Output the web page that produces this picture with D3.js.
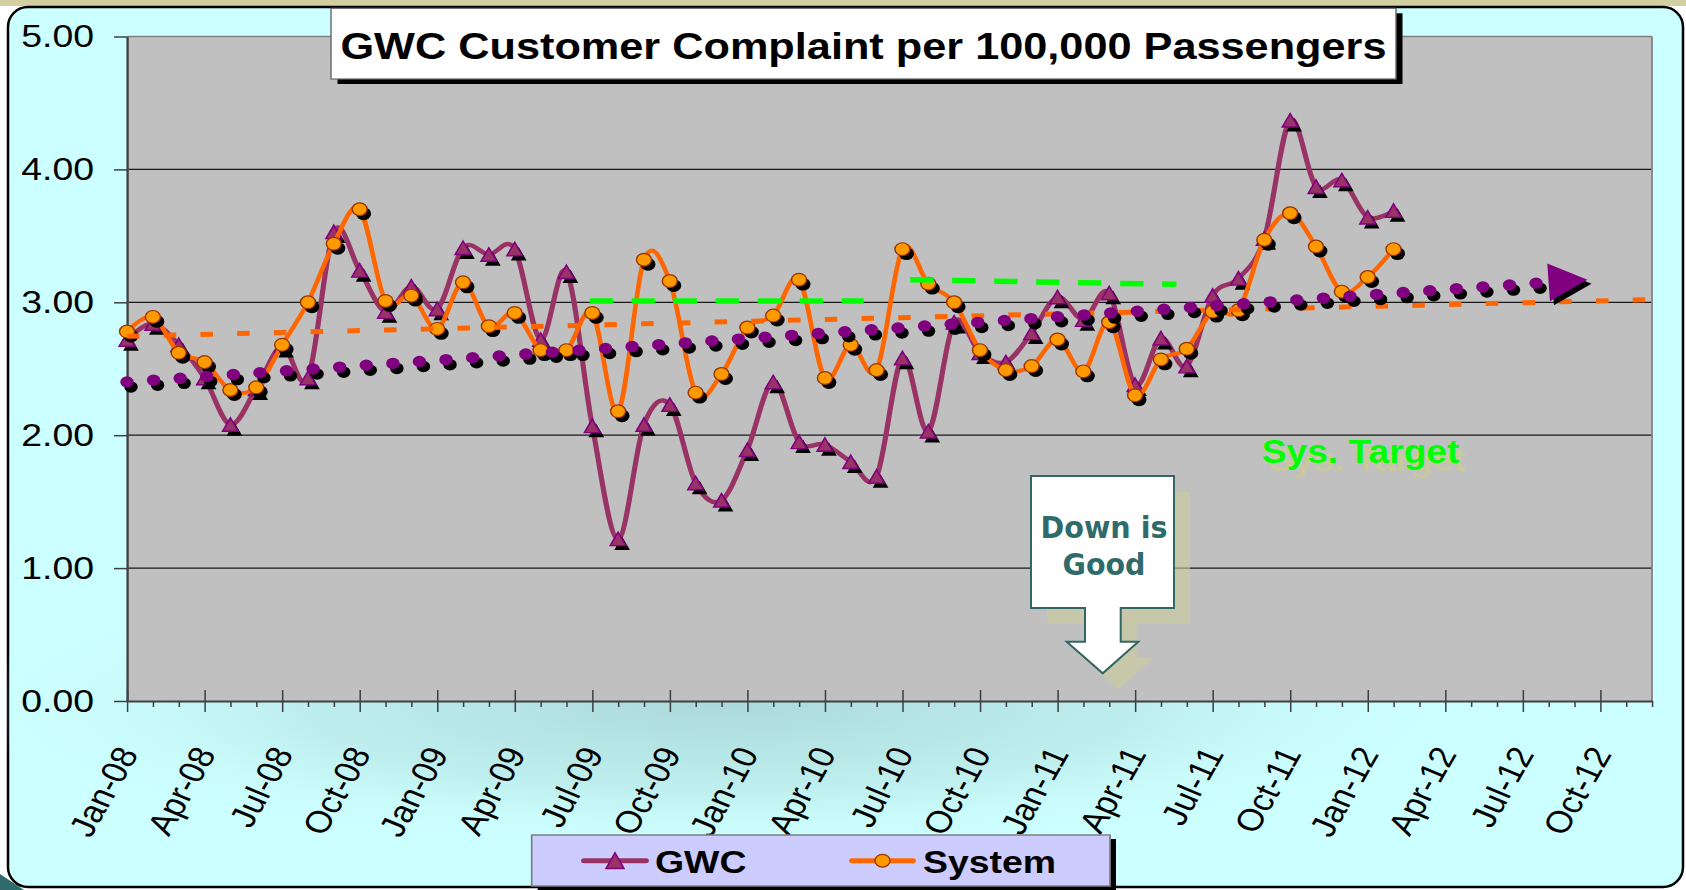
<!DOCTYPE html>
<html>
<head>
<meta charset="utf-8">
<script src="https://cdn.jsdelivr.net/npm/d3@7"></script>
<style>
  html, body { margin: 0; padding: 0; background: #fff; }
  svg { display: block; }
</style>
</head>
<body>
<svg id="chart" width="1686" height="890"></svg>
<script>
// quarter labels of the month axis, axis runs Jan-08 .. Dec-12
var quarterLabels = ["Jan-08", "Apr-08", "Jul-08", "Oct-08", "Jan-09", "Apr-09", "Jul-09", "Oct-09",
  "Jan-10", "Apr-10", "Jul-10", "Oct-10", "Jan-11", "Apr-11", "Jul-11", "Oct-11",
  "Jan-12", "Apr-12", "Jul-12", "Oct-12"];
var monthCount = 60;
var yTicks = [0, 1, 2, 3, 4, 5];

// complaints per 100,000 passengers, monthly Jan-08 .. Feb-12
var gwc = [2.72, 2.84, 2.68, 2.43, 2.08, 2.35, 2.67, 2.43, 3.53, 3.24,
  2.93, 3.12, 2.95, 3.41, 3.36, 3.40, 2.72, 3.23, 2.07, 1.22,
  2.08, 2.23, 1.64, 1.51, 1.89, 2.40, 1.95, 1.93, 1.80, 1.69,
  2.58, 2.03, 2.85, 2.62, 2.55, 2.77, 3.04, 2.87, 3.07, 2.38,
  2.73, 2.52, 3.05, 3.18, 3.48, 4.37, 3.87, 3.92, 3.64, 3.69];
var system = [2.78, 2.89, 2.62, 2.55, 2.34, 2.36, 2.68, 3.00, 3.44, 3.70,
  3.01, 3.05, 2.80, 3.15, 2.82, 2.92, 2.64, 2.64, 2.92, 2.18,
  3.32, 3.16, 2.32, 2.46, 2.81, 2.90, 3.17, 2.43, 2.68, 2.49,
  3.40, 3.14, 3.00, 2.64, 2.49, 2.52, 2.72, 2.48, 2.85, 2.30,
  2.57, 2.65, 2.93, 2.94, 3.47, 3.67, 3.42, 3.08, 3.19, 3.40];

// trend lines and system targets as [month index, value]
var gwcTrend = [[0, 2.40], [55, 3.15]];
var systemTrend = [[0, 2.745], [59, 3.02]];
var target1 = [[17.9, 3.01], [28.5, 3.01]];
var target2 = [[30.3, 3.17], [40.6, 3.135]];

var W = 1686, H = 890;
var SX = 1.17; // the original picture is stretched sideways
var FONT = "'Liberation Sans', Arial, sans-serif";

var svg = d3.select("#chart");
var defs = svg.append("defs");
var grad = defs.append("radialGradient").attr("id", "shade");
grad.append("stop").attr("offset", "0%").attr("stop-color", "#aad7d7").attr("stop-opacity", 0.95);
grad.append("stop").attr("offset", "55%").attr("stop-color", "#b4e2e2").attr("stop-opacity", 0.6);
grad.append("stop").attr("offset", "100%").attr("stop-color", "#ccffff").attr("stop-opacity", 0);

// frame
svg.append("rect").attr("width", W).attr("height", H).attr("fill", "#fff");
svg.append("rect").attr("width", W).attr("height", 6).attr("fill", "#d2cfa0");
svg.append("path").attr("d", "M0,874 L24,890 L0,890 Z").attr("fill", "#2f6b6b");
svg.append("rect")
  .attr("x", 8).attr("y", 7).attr("width", 1675).attr("height", 880).attr("rx", 20)
  .attr("fill", "#ccffff").attr("stroke", "#000").attr("stroke-width", 2.5);
svg.append("ellipse")
  .attr("cx", 720).attr("cy", 705).attr("rx", 760).attr("ry", 150)
  .attr("fill", "url(#shade)");

var g = svg.append("g").attr("transform", "scale(" + SX + ",1)");

var plotL = 127 / SX, plotR = 1652 / SX, plotT = 36.5, plotB = 701;
var x = d3.scaleLinear().domain([0, monthCount - 1]).range([plotL, plotR]);
var y = d3.scaleLinear().domain([0, 5]).range([plotB, plotT]);

// plot area
g.append("rect")
  .attr("x", plotL).attr("y", plotT)
  .attr("width", plotR - plotL).attr("height", plotB - plotT)
  .attr("fill", "#c0c0c0");

g.selectAll(".grid")
  .data(yTicks.filter(d => d > 0 && d < 5))
  .enter().append("line")
  .attr("x1", plotL).attr("x2", plotR)
  .attr("y1", d => y(d)).attr("y2", d => y(d))
  .attr("stroke", "#1a1a1a").attr("stroke-width", 1.3);

g.append("line").attr("x1", plotL).attr("x2", plotR).attr("y1", y(5)).attr("y2", y(5))
  .attr("stroke", "#808080").attr("stroke-width", 1.5);
g.append("line").attr("x1", plotR).attr("x2", plotR).attr("y1", plotT).attr("y2", plotB)
  .attr("stroke", "#808080").attr("stroke-width", 1.5);

// y axis
var yAxis = g.append("g")
  .attr("transform", "translate(" + plotL + ",0)")
  .call(d3.axisLeft(y).tickValues(yTicks).tickFormat(d3.format(".2f"))
    .tickSize(13 / SX).tickSizeOuter(0).tickPadding(17));
yAxis.select(".domain").attr("stroke", "#404040").attr("stroke-width", 2);
yAxis.selectAll(".tick line").attr("stroke", "#404040").attr("stroke-width", 1.5);
yAxis.selectAll(".tick text")
  .attr("font-family", FONT).attr("font-size", 32).attr("fill", "#000");

// x axis: minor month ticks, then quarter ticks with labels
var minorAxis = g.append("g")
  .attr("transform", "translate(0," + plotB + ")")
  .call(d3.axisBottom(x).tickValues(d3.range(0, monthCount).filter(d => d % 3 !== 0))
    .tickSize(6).tickSizeOuter(0).tickFormat(""));
minorAxis.select(".domain").remove();
minorAxis.selectAll(".tick line").attr("stroke", "#404040").attr("stroke-width", 1.3);

var xAxis = g.append("g")
  .attr("transform", "translate(0," + plotB + ")")
  .call(d3.axisBottom(x).tickValues(d3.range(0, monthCount - 2, 3))
    .tickSize(11).tickSizeOuter(0).tickFormat((d, i) => quarterLabels[i]));
xAxis.select(".domain").attr("stroke", "#404040").attr("stroke-width", 2);
xAxis.selectAll(".tick line").attr("y1", -11).attr("stroke", "#404040").attr("stroke-width", 1.3);
xAxis.selectAll(".tick text")
  .attr("font-family", FONT).attr("font-size", 31).attr("fill", "#000")
  .attr("x", 0).attr("y", 0).attr("dy", "0.35em")
  .attr("text-anchor", "end")
  .attr("transform", "translate(0,48) rotate(-64)");

// series
var smooth = d3.line()
  .x((d, i) => x(i))
  .y(d => y(d))
  .curve(d3.curveCatmullRom.alpha(0));
var straight = d3.line().x(d => x(d[0])).y(d => y(d[1]));

function triangle(w, h) {
  return "M0," + (-h / 2) + "L" + (w / 2) + "," + (h / 2) + "L" + (-w / 2) + "," + (h / 2) + "Z";
}
var shX = 4 / SX, shY = 4.5;

g.append("path").datum(gwc)
  .attr("d", smooth).attr("fill", "none")
  .attr("stroke", "#993366").attr("stroke-width", 4.4).attr("stroke-linejoin", "round");

var gwcMarks = g.append("g").selectAll("g").data(gwc).enter().append("g")
  .attr("transform", (d, i) => "translate(" + x(i) + "," + y(d) + ")");
gwcMarks.append("path").attr("d", triangle(13.4, 13.5))
  .attr("transform", "translate(" + shX + "," + shY + ")").attr("fill", "#000");
gwcMarks.append("path").attr("d", triangle(13.4, 13.5))
  .attr("fill", "#993366").attr("stroke", "#800080").attr("stroke-width", 1.4);

g.append("path").datum(system)
  .attr("d", smooth).attr("fill", "none")
  .attr("stroke", "#ff6600").attr("stroke-width", 4).attr("stroke-linejoin", "round");

var sysMarks = g.append("g").selectAll("g").data(system).enter().append("g")
  .attr("transform", (d, i) => "translate(" + x(i) + "," + y(d) + ")");
sysMarks.append("circle").attr("r", 6.4).attr("cx", shX).attr("cy", shY).attr("fill", "#000");
sysMarks.append("circle").attr("r", 6.4)
  .attr("fill", "#ff9900").attr("stroke", "#993300").attr("stroke-width", 1.2);

// trend lines
g.append("path").datum(systemTrend)
  .attr("d", straight).attr("fill", "none")
  .attr("stroke", "#ff6600").attr("stroke-width", 5).attr("stroke-dasharray", "10.7 20.7");

g.append("path").datum(gwcTrend)
  .attr("d", straight).attr("fill", "none")
  .attr("transform", "translate(" + shX + "," + 5 + ")")
  .attr("stroke", "#000").attr("stroke-width", 11.5)
  .attr("stroke-linecap", "round").attr("stroke-dasharray", "0 22.8");
g.append("path").datum(gwcTrend)
  .attr("d", straight).attr("fill", "none")
  .attr("stroke", "#800080").attr("stroke-width", 11.5)
  .attr("stroke-linecap", "round").attr("stroke-dasharray", "0 22.8");

// arrow head at the end of the GWC trend, built in screen space then unscaled
var p0 = gwcTrend[0], p1 = gwcTrend[1];
var bx = x(p1[0]) * SX, by = y(p1[1]);
var ang = Math.atan2(y(p1[1]) - y(p0[1]), (x(p1[0]) - x(p0[0])) * SX);
var ux = Math.cos(ang), uy = Math.sin(ang);
var arrowPts = [
  [bx - 19 * uy, by + 19 * ux],
  [bx + 39 * ux, by + 39 * uy],
  [bx + 19 * uy, by - 19 * ux]
].map(p => [p[0] / SX, p[1]]);
g.append("polygon").attr("points", arrowPts.join(" "))
  .attr("transform", "translate(" + shX + "," + 4 + ")").attr("fill", "#000");
g.append("polygon").attr("points", arrowPts.join(" ")).attr("fill", "#800080");

// system targets
[target1, target2].forEach(function (t) {
  g.append("path").datum(t)
    .attr("d", straight).attr("fill", "none")
    .attr("stroke", "#00ff00").attr("stroke-width", 5.5).attr("stroke-dasharray", "19.9 16");
});

g.append("text").text("Sys. Target")
  .attr("x", 1261.7 / SX + 5.6).attr("y", 471)
  .attr("font-family", FONT).attr("font-weight", "bold").attr("font-size", 34)
  .attr("textLength", 169).attr("lengthAdjust", "spacingAndGlyphs")
  .attr("fill", "#c9c89e");
g.append("text").text("Sys. Target")
  .attr("x", 1261.7 / SX).attr("y", 463.5)
  .attr("font-family", FONT).attr("font-weight", "bold").attr("font-size", 34)
  .attr("textLength", 169).attr("lengthAdjust", "spacingAndGlyphs")
  .attr("fill", "#00ff00");

// title
var tX = 331 / SX, tW = (1396 - 331) / SX;
g.append("rect").attr("x", tX + 6.5 / SX).attr("y", 13.3).attr("width", tW).attr("height", 70.7)
  .attr("fill", "#000");
g.append("rect").attr("x", tX).attr("y", 8.3).attr("width", tW).attr("height", 70.7)
  .attr("fill", "#fff").attr("stroke", "#666").attr("stroke-width", 1.2);
g.append("text").text("GWC Customer Complaint per 100,000 Passengers")
  .attr("x", tX + tW / 2).attr("y", 59.5)
  .attr("text-anchor", "middle")
  .attr("font-family", FONT).attr("font-weight", "bold").attr("font-size", 37)
  .attr("fill", "#000");

// legend
var lgX = 531.7 / SX, lgW = (1110 - 531.7) / SX, lgY = 835, lgH = 51;
g.append("rect").attr("x", lgX + 6 / SX).attr("y", lgY + 4).attr("width", lgW).attr("height", lgH)
  .attr("fill", "#000");
g.append("rect").attr("x", lgX).attr("y", lgY).attr("width", lgW).attr("height", lgH)
  .attr("fill", "#ccccff").attr("stroke", "#808080").attr("stroke-width", 1.5);

var legendItems = [
  { name: "GWC", color: "#993366", x1: 584, x2: 646, tx: 655 },
  { name: "System", color: "#ff6600", x1: 852, x2: 913, tx: 923 }
];
var ly = 860.7;
legendItems.forEach(function (it, k) {
  var cx = (it.x1 + it.x2) / 2 / SX;
  g.append("line")
    .attr("x1", it.x1 / SX).attr("x2", it.x2 / SX).attr("y1", ly).attr("y2", ly)
    .attr("stroke", it.color).attr("stroke-width", 5).attr("stroke-linecap", "round");
  if (k === 0) {
    g.append("path").attr("d", triangle(15.4, 15.6))
      .attr("transform", "translate(" + cx + "," + ly + ")")
      .attr("fill", "#993366").attr("stroke", "#800080").attr("stroke-width", 1.4);
  } else {
    g.append("circle").attr("cx", cx).attr("cy", ly).attr("r", 6.4)
      .attr("fill", "#ff9900").attr("stroke", "#993300").attr("stroke-width", 1.2);
  }
  g.append("text").text(it.name)
    .attr("x", it.tx / SX).attr("y", 873)
    .attr("font-family", FONT).attr("font-weight", "bold").attr("font-size", 32)
    .attr("fill", "#000");
});

// "Down is Good" callout
var callout = "M1031,476 H1174 V608 H1120.7 V641.7 H1138.3 L1102.7,673.3 L1066.7,641.7 H1085 V608 H1031 Z";
svg.append("path").attr("d", callout)
  .attr("transform", "translate(16,16)")
  .attr("fill", "#cccc99").attr("fill-opacity", 0.6);
svg.append("path").attr("d", callout)
  .attr("fill", "#fff").attr("stroke", "#336666").attr("stroke-width", 2);
[["Down is", 538, 127], ["Good", 575, 83]].forEach(function (r) {
  svg.append("text").text(r[0])
    .attr("x", 1104).attr("y", r[1])
    .attr("text-anchor", "middle")
    .attr("font-family", "'DejaVu Sans', Verdana, sans-serif")
    .attr("font-weight", "bold").attr("font-size", 31)
    .attr("textLength", r[2]).attr("lengthAdjust", "spacingAndGlyphs")
    .attr("fill", "#2f6b6b");
});
</script>
</body>
</html>
